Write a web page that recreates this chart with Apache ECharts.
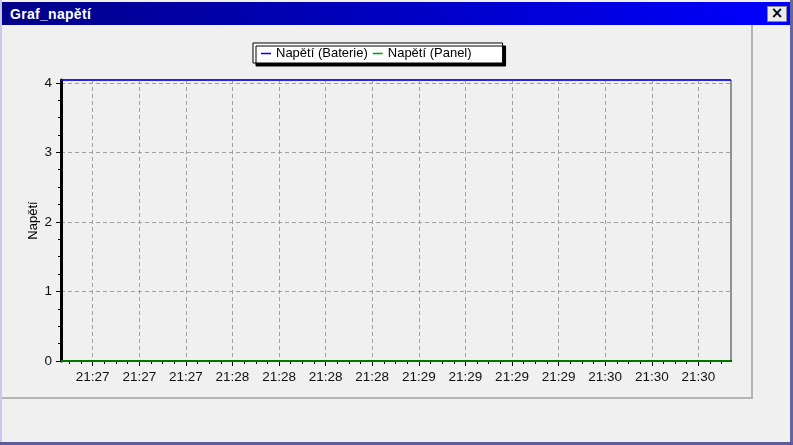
<!DOCTYPE html>
<html>
<head>
<meta charset="utf-8">
<script src="https://cdn.jsdelivr.net/npm/echarts@6/dist/echarts.min.js"></script>
<style>
  html, body { margin:0; padding:0; width:793px; height:445px; overflow:hidden; background:#f0f0f0; }
  #win { position:absolute; left:0; top:0; width:793px; height:445px; background:#f0f0f0; }
  #lb { position:absolute; left:0; top:0; width:2px; height:445px; background:#c8c8ec; }
  #rb { position:absolute; left:790px; top:0; width:3px; height:445px; background:#6464a0; }
  #bb { position:absolute; left:0; top:442px; width:793px; height:3px; background:#5c5c98; }
  #tb { position:absolute; left:2px; top:2px; width:788px; height:23px; background:linear-gradient(90deg,#000088,#0000c8 55%,#0000ff); }
  #tt { position:absolute; left:8px; top:4px; color:#fff; font:bold 14px "Liberation Sans", Arial, sans-serif; letter-spacing:0.3px; }
  #cb { position:absolute; left:767px; top:6px; width:20px; height:16px; background:#ececec; border:1px solid #8a8a8a; box-sizing:border-box;
        font:bold 15px "DejaVu Sans", sans-serif; line-height:13px; text-align:center; color:#000; }
  #vl { position:absolute; left:751px; top:25px; width:2px; height:374px; background:#b4b4b4; }
  #hl { position:absolute; left:2px; top:397px; width:751px; height:2px; background:#b4b4b4; }
  #chart { position:absolute; left:0; top:0; width:793px; height:445px; }
</style>
</head>
<body>
<div id="win">
  <div id="lb"></div><div id="rb"></div><div id="bb"></div>
  <div id="tb"><div id="tt">Graf_napětí</div></div>
  <div id="cb">×</div>
  <div id="vl"></div><div id="hl"></div>
</div>
<div id="chart"></div>
<script>
// ---- data ----
const seriesNames = ['Napětí (Baterie)', 'Napětí (Panel)'];
const seriesColors = ['#0000ff', '#00a000'];
const times = ['21:27:04.8','21:27:20','21:27:35','21:27:50','21:28:05','21:28:20','21:28:35','21:28:50',
               '21:29:05','21:29:20','21:29:35','21:29:50','21:30:05','21:30:20','21:30:35','21:30:40.5'];
const bateriePoints = [4.04,4.04,4.04,4.04,4.04,4.04,4.04,4.04,4.04,4.04,4.04,4.04,4.04,4.04,4.04,4.04];
const panelPoints   = [0,0,0,0,0,0,0,0,0,0,0,0,0,0,0,0];
const xTickTimes = ['21:27:15','21:27:30','21:27:45','21:28:00','21:28:15','21:28:30','21:28:45',
                    '21:29:00','21:29:15','21:29:30','21:29:45','21:30:00','21:30:15','21:30:30'];
const yTicks = [0, 1, 2, 3, 4];
const yAxisTitle = 'Napětí';

function toSec(s) { const p = s.split(':').map(Number); return p[0]*3600 + p[1]*60 + p[2]; }
const xs = times.map(toSec);
const xMin = xs[0], xMax = xs[xs.length - 1];
const yMin = 0, yMax = 4.04;
const xMajor = xTickTimes.map(toSec);
const xStep = xMajor[1] - xMajor[0];
const xMinor = [];
for (let v = xMajor[0] - xStep; v <= xMax; v += xStep / 4) {
  if (v >= xMin && v <= xMax && xMajor.indexOf(v) < 0) xMinor.push(v);
}
const yMinor = [];
for (let i = 0; i < yTicks.length - 1; i++) {
  const d = (yTicks[i+1] - yTicks[i]) / 4;
  for (let k = 1; k < 4; k++) yMinor.push(yTicks[i] + d * k);
}
function hhmm(v) {
  const h = Math.floor(v / 3600), m = Math.floor((v % 3600) / 60);
  return (h < 10 ? '0' : '') + h + ':' + (m < 10 ? '0' : '') + m;
}

const FONT = '"Liberation Sans", Arial, sans-serif';
const chart = echarts.init(document.getElementById('chart'), null, { renderer: 'canvas' });
chart.setOption({
  backgroundColor: 'transparent',
  animation: false,
  legend: {
    left: 253, top: 43,
    data: seriesNames.map((n, i) => ({ name: n, itemStyle: { color: seriesColors[i] } })),
    orient: 'horizontal',
    backgroundColor: '#ffffff',
    borderColor: '#000000', borderWidth: 1,
    shadowColor: '#000000', shadowBlur: 0, shadowOffsetX: 3, shadowOffsetY: 3,
    padding: [4, 31, 3, 8],
    itemGap: 5, itemTextGap: 5,
    itemWidth: 10, itemHeight: 1.5,
    icon: 'rect',
    textStyle: { fontFamily: FONT, fontSize: 13, color: '#000' }
  },
  grid: { left: 61, top: 80, width: 670, height: 281, show: true, borderColor: '#333', borderWidth: 1, backgroundColor: 'transparent' },
  xAxis: [{
    type: 'value', min: xMin, max: xMax,
    axisLine: { show: true, lineStyle: { color: '#000', width: 2 } },
    axisTick: { show: true, inside: false, length: 5, customValues: xMajor, lineStyle: { color: '#000', width: 1 } },
    axisLabel: { show: true, customValues: xMajor, formatter: hhmm, margin: 9, fontFamily: FONT, fontSize: 13.5, color: '#101010' },
    splitLine: { show: true, lineStyle: { color: '#a0a0a0', type: [4, 3], width: 1 } }
  }, {
    type: 'value', min: xMin, max: xMax, position: 'bottom',
    axisLine: { show: false },
    axisTick: { show: true, inside: false, length: 3, customValues: xMinor, lineStyle: { color: '#000', width: 1 } },
    axisLabel: { show: false }, splitLine: { show: false }
  }],
  yAxis: [{
    type: 'value', min: yMin, max: yMax,
    name: yAxisTitle, nameLocation: 'middle', nameGap: 21, nameRotate: 90, nameMoveOverlap: false,
    nameTextStyle: { fontFamily: FONT, fontSize: 13, color: '#000' },
    axisLine: { show: true, lineStyle: { color: '#000', width: 3 } },
    axisTick: { show: true, inside: false, length: 5, customValues: yTicks, lineStyle: { color: '#000', width: 1 } },
    axisLabel: { show: true, customValues: yTicks, margin: 9, fontFamily: FONT, fontSize: 13.5, color: '#101010' },
    splitLine: { show: true, lineStyle: { color: '#a0a0a0', type: [4, 3], width: 1 } }
  }, {
    type: 'value', min: yMin, max: yMax, position: 'left',
    axisLine: { show: false },
    axisTick: { show: true, inside: false, length: 3, customValues: yMinor, lineStyle: { color: '#000', width: 1 } },
    axisLabel: { show: false }, splitLine: { show: false }
  }],
  series: [{
    name: seriesNames[0], type: 'line', xAxisIndex: 0, yAxisIndex: 0,
    data: xs.map((x, i) => [x, bateriePoints[i]]),
    showSymbol: false, symbol: 'none', clip: false, z: 5,
    color: seriesColors[0], lineStyle: { color: seriesColors[0], width: 1.5 }
  }, {
    name: seriesNames[1], type: 'line', xAxisIndex: 0, yAxisIndex: 0,
    data: xs.map((x, i) => [x, panelPoints[i]]),
    showSymbol: false, symbol: 'none', clip: false, z: 4,
    color: seriesColors[1], lineStyle: { color: seriesColors[1], width: 1.5 }
  }]
});
</script>
</body>
</html>
